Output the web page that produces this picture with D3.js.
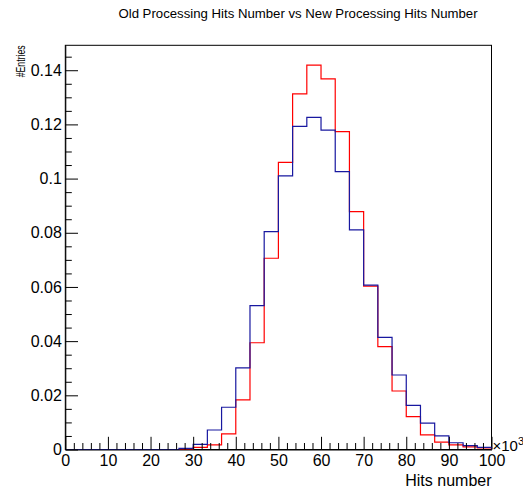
<!DOCTYPE html>
<html>
<head>
<meta charset="utf-8">
<script src="https://cdn.jsdelivr.net/npm/d3@7"></script>
<style>
  body { margin: 0; background: #fff; }
  svg { display: block; font-family: "Liberation Sans", Arial, sans-serif; }
  .axis path, .axis line { stroke: #000; }
</style>
</head>
<body>
<svg id="svg" width="523" height="491"></svg>
<script>
// histogram binning (x in units of 10^3 hits)
var xMin = 0, xMax = 100, nBins = 30;
var yMax = 0.1492;

// red histogram, bin contents
var redValues = [0, 0, 0, 0, 0, 0, 0, 0, 0, 0.0008,
  0.0017, 0.0058, 0.0183, 0.0394, 0.0706, 0.1060, 0.1313, 0.1419, 0.1368, 0.1173,
  0.0878, 0.0603, 0.0380, 0.0216, 0.0121, 0.0054, 0.0027, 0.0017, 0.0010, 0.0006];
// blue histogram
var blueValues = [0, 0, 0, 0, 0, 0, 0, 0, 0.0004, 0.0019,
  0.0072, 0.0156, 0.0301, 0.0531, 0.0804, 0.1010, 0.1193, 0.1226, 0.1179, 0.1026,
  0.0811, 0.0607, 0.0414, 0.0275, 0.0163, 0.0097, 0.0050, 0.0025, 0.0014, 0.0008];

var xMajor = [0, 10, 20, 30, 40, 50, 60, 70, 80, 90, 100];
var yMajor = [0, 0.02, 0.04, 0.06, 0.08, 0.1, 0.12, 0.14];
var yLabels = ["0", "0.02", "0.04", "0.06", "0.08", "0.1", "0.12", "0.14"];

var titleText = "Old Processing Hits Number vs New Processing Hits Number";
var xTitle = "Hits number";
var yTitle = "#Entries";

// pad frame ("top" is taken by window.top, so prefix them)
var padLeft = 65.3, padRight = 491.5, padTop = 45.3, padBottom = 449.5;

var svg = d3.select("#svg");
var x = d3.scaleLinear().domain([xMin, xMax]).range([padLeft, padRight]);
var y = d3.scaleLinear().domain([0, yMax]).range([padBottom, padTop]);

var binW = (xMax - xMin) / nBins;

function stepPath(vals) {
  var pts = [[x(xMin), y(0)]];
  vals.forEach(function(v, i) {
    var x0 = xMin + i * binW;
    pts.push([x(x0), y(v)]);
    pts.push([x(x0 + binW), y(v)]);
  });
  pts.push([x(xMax), y(0)]);
  return d3.line()(pts);
}

// frame
svg.append("rect")
  .attr("x", padLeft).attr("y", padTop)
  .attr("width", padRight - padLeft).attr("height", padBottom - padTop)
  .attr("fill", "none").attr("stroke", "#000").attr("stroke-width", 1);

// histograms
svg.append("path").attr("d", stepPath(redValues))
  .attr("fill", "none").attr("stroke", "#ff0000").attr("stroke-width", 1.2);
svg.append("path").attr("d", stepPath(blueValues))
  .attr("fill", "none").attr("stroke", "#1818a0").attr("stroke-width", 1.2);

// x axis, ticks pointing inside
var xMinor = d3.range(0, 101, 2).filter(function(v) { return v % 10 != 0; });
svg.append("g").attr("class", "axis").attr("transform", "translate(0," + padBottom + ")")
  .call(d3.axisBottom(x).tickValues(xMinor).tickSize(-6.5).tickFormat(""))
  .call(function(g) { g.select(".domain").remove(); });
svg.append("g").attr("class", "axis").attr("transform", "translate(0," + padBottom + ")")
  .call(d3.axisBottom(x).tickValues(xMajor).tickSize(-12.7).tickSizeOuter(0).tickPadding(5).tickFormat(d3.format("d")))
  .call(function(g) { g.selectAll("text").attr("font-size", 16).attr("fill", "#000"); });

// y axis
var yMinor = d3.range(0.005, yMax, 0.005).filter(function(v, i) { return (i + 1) % 4 != 0; });
svg.append("g").attr("class", "axis").attr("transform", "translate(" + padLeft + ",0)")
  .call(d3.axisLeft(y).tickValues(yMinor).tickSize(-6.5).tickFormat(""))
  .call(function(g) { g.select(".domain").remove(); });
svg.append("g").attr("class", "axis").attr("transform", "translate(" + padLeft + ",0)")
  .call(d3.axisLeft(y).tickValues(yMajor).tickSize(-12.7).tickSizeOuter(0).tickPadding(3.5)
    .tickFormat(function(d, i) { return yLabels[i]; }))
  .call(function(g) { g.selectAll("text").attr("font-size", 16).attr("fill", "#000"); });

// titles
svg.append("text").attr("x", 298).attr("y", 18).attr("text-anchor", "middle")
  .attr("font-size", 13.2).text(titleText);
svg.append("text").attr("x", padRight).attr("y", 486).attr("text-anchor", "end")
  .attr("font-size", 16).text(xTitle);
// root squeezes the "#E" title, so force its length
svg.append("text").attr("transform", "translate(25," + padTop + ") rotate(-90)")
  .attr("text-anchor", "end").attr("font-size", 13)
  .attr("textLength", 32).attr("lengthAdjust", "spacingAndGlyphs").text(yTitle);

// exponent of the x axis
var expo = svg.append("text").attr("x", padRight + 1).attr("y", 451).attr("font-size", 15);
expo.append("tspan").text("×10");
expo.append("tspan").attr("dy", -6).attr("font-size", 11).text("3");
</script>
</body>
</html>
